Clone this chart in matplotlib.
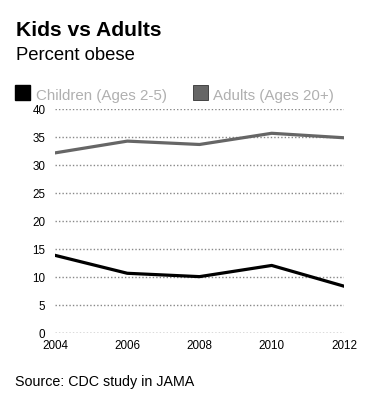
import matplotlib
matplotlib.use('Agg')
import matplotlib.pyplot as plt
from matplotlib.patches import Rectangle

plt.rcParams['font.family'] = ['Liberation Sans', 'DejaVu Sans']

# Percent obese, CDC study in JAMA
years = [2004, 2006, 2008, 2010, 2012]
children = [13.9, 10.7, 10.1, 12.1, 8.4]
adults = [32.2, 34.3, 33.7, 35.7, 34.9]
y_ticks = [0, 5, 10, 15, 20, 25, 30, 35, 40]

fig = plt.figure(figsize=(3.8, 4.0), dpi=100)
ax = fig.add_axes([0.145, 0.167, 0.76, 0.560])

for yv in y_ticks:
    col = '#444444' if yv == 0 else '#888888'
    ax.axhline(yv, color=col, linestyle=(0, (1, 1.5)), linewidth=1.0, zorder=1)

ax.plot(years, adults, color='#666666', linewidth=2.3, zorder=3)
ax.plot(years, children, color='black', linewidth=2.3, zorder=3)

ax.set_xlim(2004, 2012)
ax.set_ylim(0, 40)
ax.set_xticks(years)
ax.set_yticks(y_ticks)
ax.tick_params(axis='both', length=0, labelsize=8.4)
ax.tick_params(axis='y', pad=7)
ax.tick_params(axis='x', pad=5)
ax.set_xticks([2004, 2012], minor=True)
ax.tick_params(axis='x', which='minor', length=4, width=0.8, color='black')
for s in ax.spines.values():
    s.set_visible(False)

fig.text(0.042, 0.91, 'Kids vs Adults', fontsize=15.2, fontweight='bold')
fig.text(0.042, 0.85, 'Percent obese', fontsize=13.3)

fig.patches.append(Rectangle((15 / 380, 1 - 100 / 400), 15 / 380, 15 / 400,
                             transform=fig.transFigure, facecolor='black',
                             edgecolor='black', figure=fig))
fig.patches.append(Rectangle((193 / 380, 1 - 100 / 400), 15 / 380, 15 / 400,
                             transform=fig.transFigure, facecolor='#666666',
                             edgecolor='#333333', linewidth=0.6, figure=fig))
fig.text(36 / 380, 0.75, 'Children (Ages 2-5)', fontsize=10.9, color='#b0b0b0')
fig.text(213 / 380, 0.75, 'Adults (Ages 20+)', fontsize=10.9, color='#b0b0b0')

fig.text(0.04, 0.036, 'Source: CDC study in JAMA', fontsize=10.3)

fig.savefig('out.png', dpi=100)
